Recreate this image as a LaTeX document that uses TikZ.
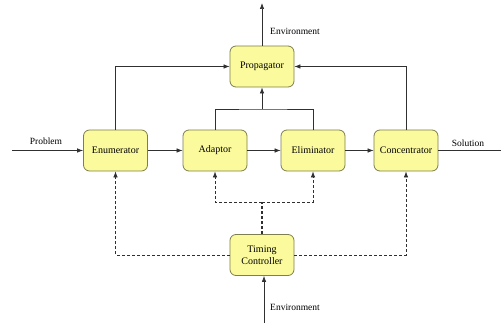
\documentclass[tikz,border=0pt]{standalone}
\usepackage{fontspec}
\setmainfont{Liberation Serif}
\usetikzlibrary{arrows.meta}
\definecolor{boxfill}{HTML}{FBFB9E}
\definecolor{boxdraw}{HTML}{7E7E4E}
\definecolor{linec}{HTML}{303030}
\begin{document}
\begin{tikzpicture}[x=1pt,y=-1pt,
  blk/.style={draw=boxdraw,fill=boxfill,rounded corners=6pt,line width=0.8pt,
    minimum width=64pt,minimum height=41pt,inner sep=1pt,align=center,
    font=\fontsize{10}{12}\selectfont},
  conn/.style={draw=linec,line width=0.7pt},
  arr/.style={conn,-{Latex[length=6pt,width=4.5pt]}},
  darr/.style={arr,dash pattern=on 3pt off 2pt},
  dln/.style={conn,dash pattern=on 3pt off 2pt},
  lbl/.style={font=\fontsize{9.5}{11}\selectfont,inner sep=0pt}]
\useasboundingbox (0,0) rectangle (501,323);
\node[blk] (enum) at (115.5,150.5) {Enumerator};
\node[blk] (adapt) at (215,150.5) {Adaptor};
\node[blk] (elim) at (313,150.5) {Eliminator};
\node[blk] (conc) at (406,150.5) {Concentrator};
\node[blk] (prop) at (262,66.5) {Propagator};
\node[blk] (timing) at (262,255) {Timing\\Controller};
\coordinate (pin) at (12,150.5);
\coordinate (sout) at (501,150.5);
\coordinate (envtop) at (262,3);
\coordinate (envbot) at (264,323);
\coordinate (jA) at (262,109);
\coordinate (jT) at (262,202);
\draw[arr] (pin) -- (enum.west);
\node[lbl] (plbl) at (46,141) {Problem};
\draw[conn] (conc.east) -- (sout);
\node[lbl] (slbl) at (468,143) {Solution};
\draw[arr] (prop.north) -- (envtop);
\node[lbl] (etl) at (295,31) {Environment};
\draw[arr] (envbot) -- (timing.south -| envbot);
\node[lbl] (ebl) at (295,307) {Environment};
\draw[arr] (enum) -- (adapt);
\draw[arr] (adapt) -- (elim);
\draw[arr] (elim) -- (conc);
\draw[arr] (enum.north) |- (prop.west);
\draw[arr] (conc.north) |- (prop.east);
\draw[conn] (adapt.north) |- (jA) -| (elim.north);
\draw[arr] (jA) -- (prop.south);
\draw[darr] (timing.west) -| (enum.south);
\draw[darr] (timing.east) -| (conc.south);
\draw[dln,line width=1.2pt] (timing.north) -- (jT);
\draw[darr] (jT) -| (adapt.south);
\draw[darr] (jT) -| (elim.south);
\end{tikzpicture}
\end{document}
